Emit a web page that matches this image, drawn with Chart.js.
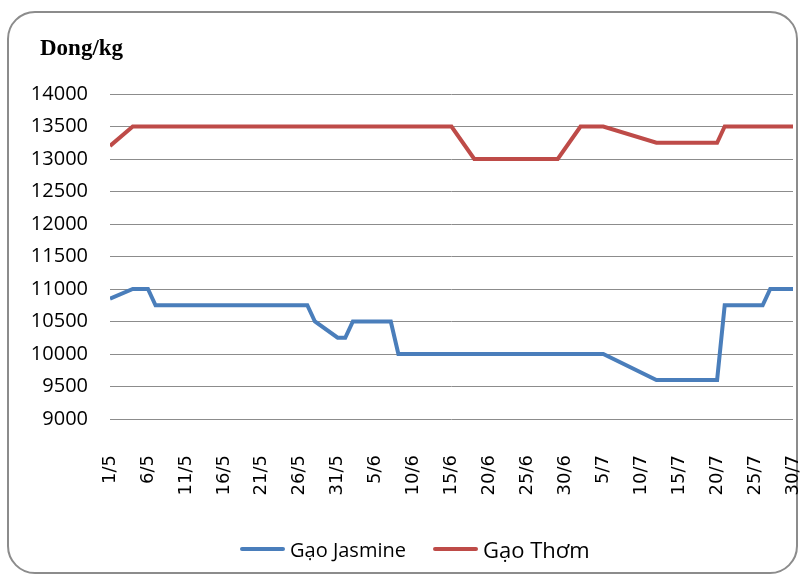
<!DOCTYPE html>
<html>
<head>
<meta charset="utf-8">
<script src="https://cdn.jsdelivr.net/npm/chart.js@4/dist/chart.umd.min.js"></script>
<style>
  html, body { margin: 0; padding: 0; background: #fff; }
  #wrap { position: relative; width: 804px; height: 581px; }
  #frame {
    position: absolute; left: 7px; top: 11px; width: 791px; height: 563px;
    border: 2px solid #8c8c8c; border-radius: 28px; box-sizing: border-box;
  }
  #priceChart { position: absolute; left: 0; top: 0; }
  #unit {
    position: absolute; left: 40px; top: 35px;
    font-family: "Liberation Serif", serif; font-weight: bold; font-size: 23px; color: #000;
  }
  #legend {
    position: absolute; top: 532px; left: 240px; height: 34px;
    display: flex; align-items: center; font-family: "Open Sans", sans-serif; color: #000;
  }
  .swatch { display: inline-block; width: 45px; height: 4px; border-radius: 2px; margin-right: 5px; }
  .item { display: flex; align-items: center; }
</style>
</head>
<body>
<div id="wrap">
  <div id="frame"></div>
  <canvas id="priceChart" width="804" height="581"></canvas>
  <div id="unit">Dong/kg</div>
  <div id="legend">
    <span class="item" style="margin-right: 27px;">
      <span class="swatch" style="background:#4a7ebb"></span>
      <span style="font-size: 20px;">Gạo Jasmine</span>
    </span>
    <span class="item">
      <span class="swatch" style="background:#be4b48"></span>
      <span style="font-size: 22px;">Gạo Thơm</span>
    </span>
  </div>
</div>
<script>
// x = days counted from 1/5
const tickLabels = ['1/5', '6/5', '11/5', '16/5', '21/5', '26/5', '31/5', '5/6', '10/6', '15/6',
    '20/6', '25/6', '30/6', '5/7', '10/7', '15/7', '20/7', '25/7', '30/7'];

const jasmineDays   = [0, 3, 5, 6, 26, 27, 30, 31, 32, 37, 38, 65, 72, 80, 81, 86, 87, 90];
const jasmineValues = [10850, 11000, 11000, 10750, 10750, 10500, 10250, 10250, 10500, 10500, 10000, 10000, 9600, 9600, 10750, 10750, 11000, 11000];

const thomDays   = [0, 3, 45, 48, 59, 62, 65, 72, 80, 81, 90];
const thomValues = [13200, 13500, 13500, 13000, 13000, 13500, 13500, 13250, 13250, 13500, 13500];

const toPoints = (days, values) => days.map((d, i) => ({ x: d, y: values[i] }));

const ctx = document.getElementById('priceChart').getContext('2d');

new Chart(ctx, {
    type: 'line',
    data: {
        datasets: [{
            label: 'Gạo Jasmine',
            data: toPoints(jasmineDays, jasmineValues),
            borderColor: '#4a7ebb',
            borderWidth: 4,
            pointRadius: 0,
            tension: 0
        }, {
            label: 'Gạo Thơm',
            data: toPoints(thomDays, thomValues),
            borderColor: '#be4b48',
            borderWidth: 4,
            pointRadius: 0,
            tension: 0
        }]
    },
    options: {
        responsive: false,
        animation: false,
        layout: {
            padding: { top: 94, right: 11, bottom: 62, left: 0 }
        },
        plugins: {
            legend: { display: false },
            tooltip: { enabled: false }
        },
        scales: {
            x: {
                type: 'linear',
                min: 0,
                max: 90,
                grid: { display: false },
                border: { display: false },
                ticks: {
                    stepSize: 5,
                    autoSkip: false,
                    minRotation: 90,
                    maxRotation: 90,
                    padding: 28,
                    color: '#000',
                    font: { family: 'DejaVu Sans', size: 18 },
                    callback: (value) => tickLabels[value / 5]
                },
                afterFit: (scale) => {
                    scale.height = 100;
                    scale.paddingLeft = 0;
                    scale.paddingRight = 0;
                }
            },
            y: {
                min: 9000,
                max: 14000,
                grid: { color: '#8c8c8c', lineWidth: 1, drawTicks: false },
                border: { display: false },
                ticks: {
                    stepSize: 500,
                    padding: 22,
                    color: '#000',
                    font: { family: 'Open Sans', size: 20 },
                    callback: (value) => String(value)
                },
                afterFit: (scale) => { scale.width = 110; }
            }
        }
    }
});
</script>
</body>
</html>
